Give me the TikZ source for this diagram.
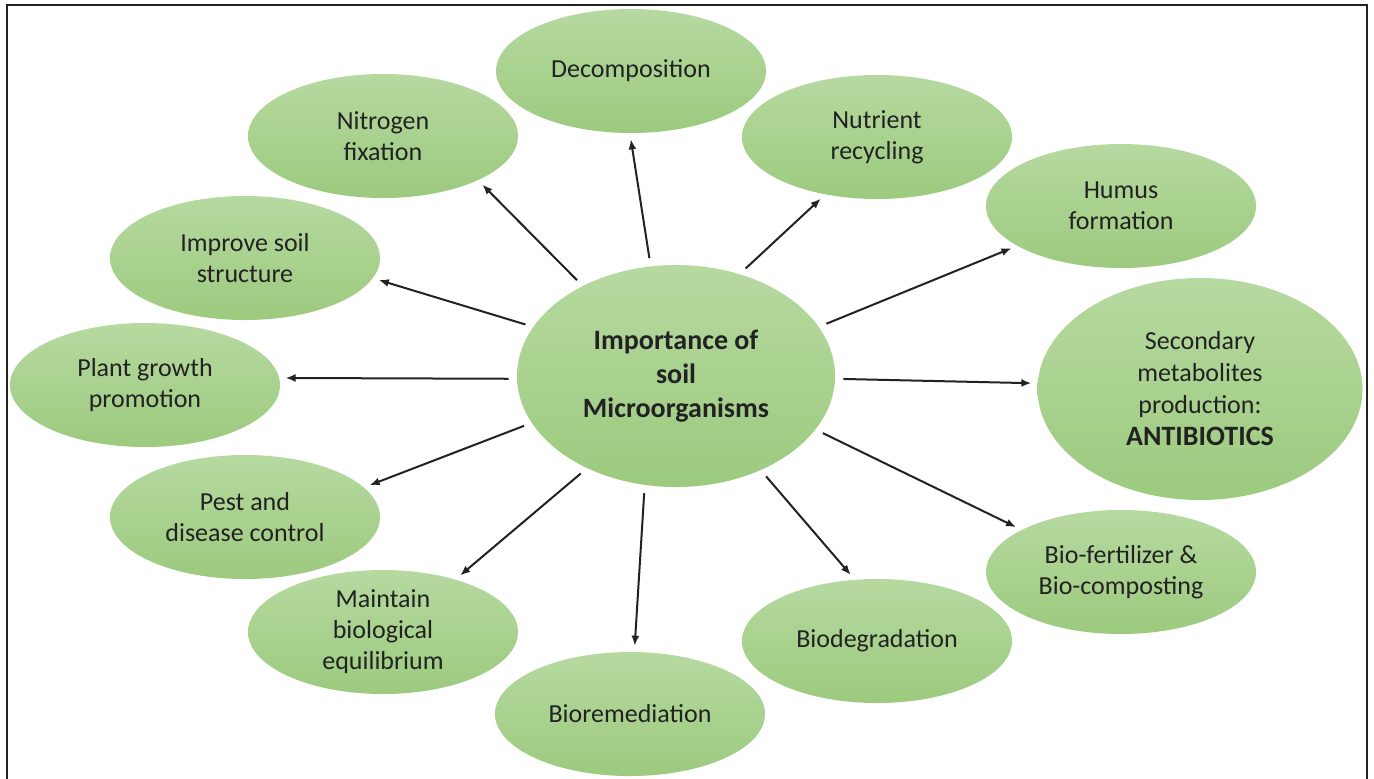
\documentclass[tikz,border=0pt]{standalone}
\usepackage{fontspec}
\setmainfont{Carlito}
\usetikzlibrary{arrows.meta,shapes.geometric}
\definecolor{leaftop}{RGB}{182,217,160}
\definecolor{leafbot}{RGB}{156,202,126}
\definecolor{inkgrey}{RGB}{34,34,34}

\begin{document}
\begin{tikzpicture}[x=0.5pt,y=-0.5pt,
  leaf/.style={ellipse,inner sep=0pt,minimum width=135pt,minimum height=62pt,
    top color=leaftop,bottom color=leafbot,align=center,text=inkgrey,
    font=\fontsize{13}{15.5}\selectfont},
  hub/.style={leaf,minimum width=159pt,minimum height=111pt,
    font=\fontsize{14}{17}\selectfont\bfseries},
  link/.style={line width=1pt,draw=inkgrey,-{Latex[length=5pt,width=4pt]},
    shorten <=4pt,shorten >=3pt}]
  \useasboundingbox (0,0) rectangle (1374,778);
  \draw[line width=1.25pt,inkgrey] (7,5) rectangle (1367,800);
  \node[hub] (hub) at (676,376) {Importance of\\soil\\Microorganisms};
  \node[leaf] (decomp) at (631,71) {Decomposition};
  \node[leaf] (nitro) at (383,136) {Nitrogen\\fixation};
  \node[leaf] (nutri) at (877,137) {Nutrient\\recycling};
  \node[leaf] (humus) at (1121,206) {Humus\\formation};
  \node[leaf] (soil) at (245,258) {Improve soil\\structure};
  \node[leaf] (growth) at (145,385) {Plant growth\\promotion};
  \node[leaf,minimum width=162.5pt,minimum height=111pt,
    font=\fontsize{13}{16}\selectfont] (second) at (1200,389)
    {Secondary\\metabolites\\production:\\{\fontsize{14}{16}\selectfont\bfseries ANTIBIOTICS}};
  \node[leaf] (pest) at (245,517) {Pest and\\disease control};
  \node[leaf] (equil) at (383,632) {Maintain\\biological\\equilibrium};
  \node[leaf] (biorem) at (630,714) {Bioremediation};
  \node[leaf] (biodeg) at (877,641) {Biodegradation};
  \node[leaf] (biofert) at (1121,572) {Bio-fertilizer \&\\Bio-composting};
  \draw[link] (hub.103) -- (decomp.269);
  \draw[link] (hub.136) -- (nitro.335);
  \draw[link] (hub.58) -- (nutri.228);
  \draw[link] (hub.19) -- (humus.201);
  \draw[link] (hub.161) -- (soil.351);
  \draw[link] (hub.181) -- (growth.3);
  \draw[link] (hub.359) -- (second.178);
  \draw[link] (hub.198) -- (pest.14);
  \draw[link] (hub.226) -- (equil.36);
  \draw[link] (hub.254) -- (biorem.86);
  \draw[link] (hub.312) -- (biodeg.110);
  \draw[link] (hub.339) -- (biofert.157);
\end{tikzpicture}
\end{document}
